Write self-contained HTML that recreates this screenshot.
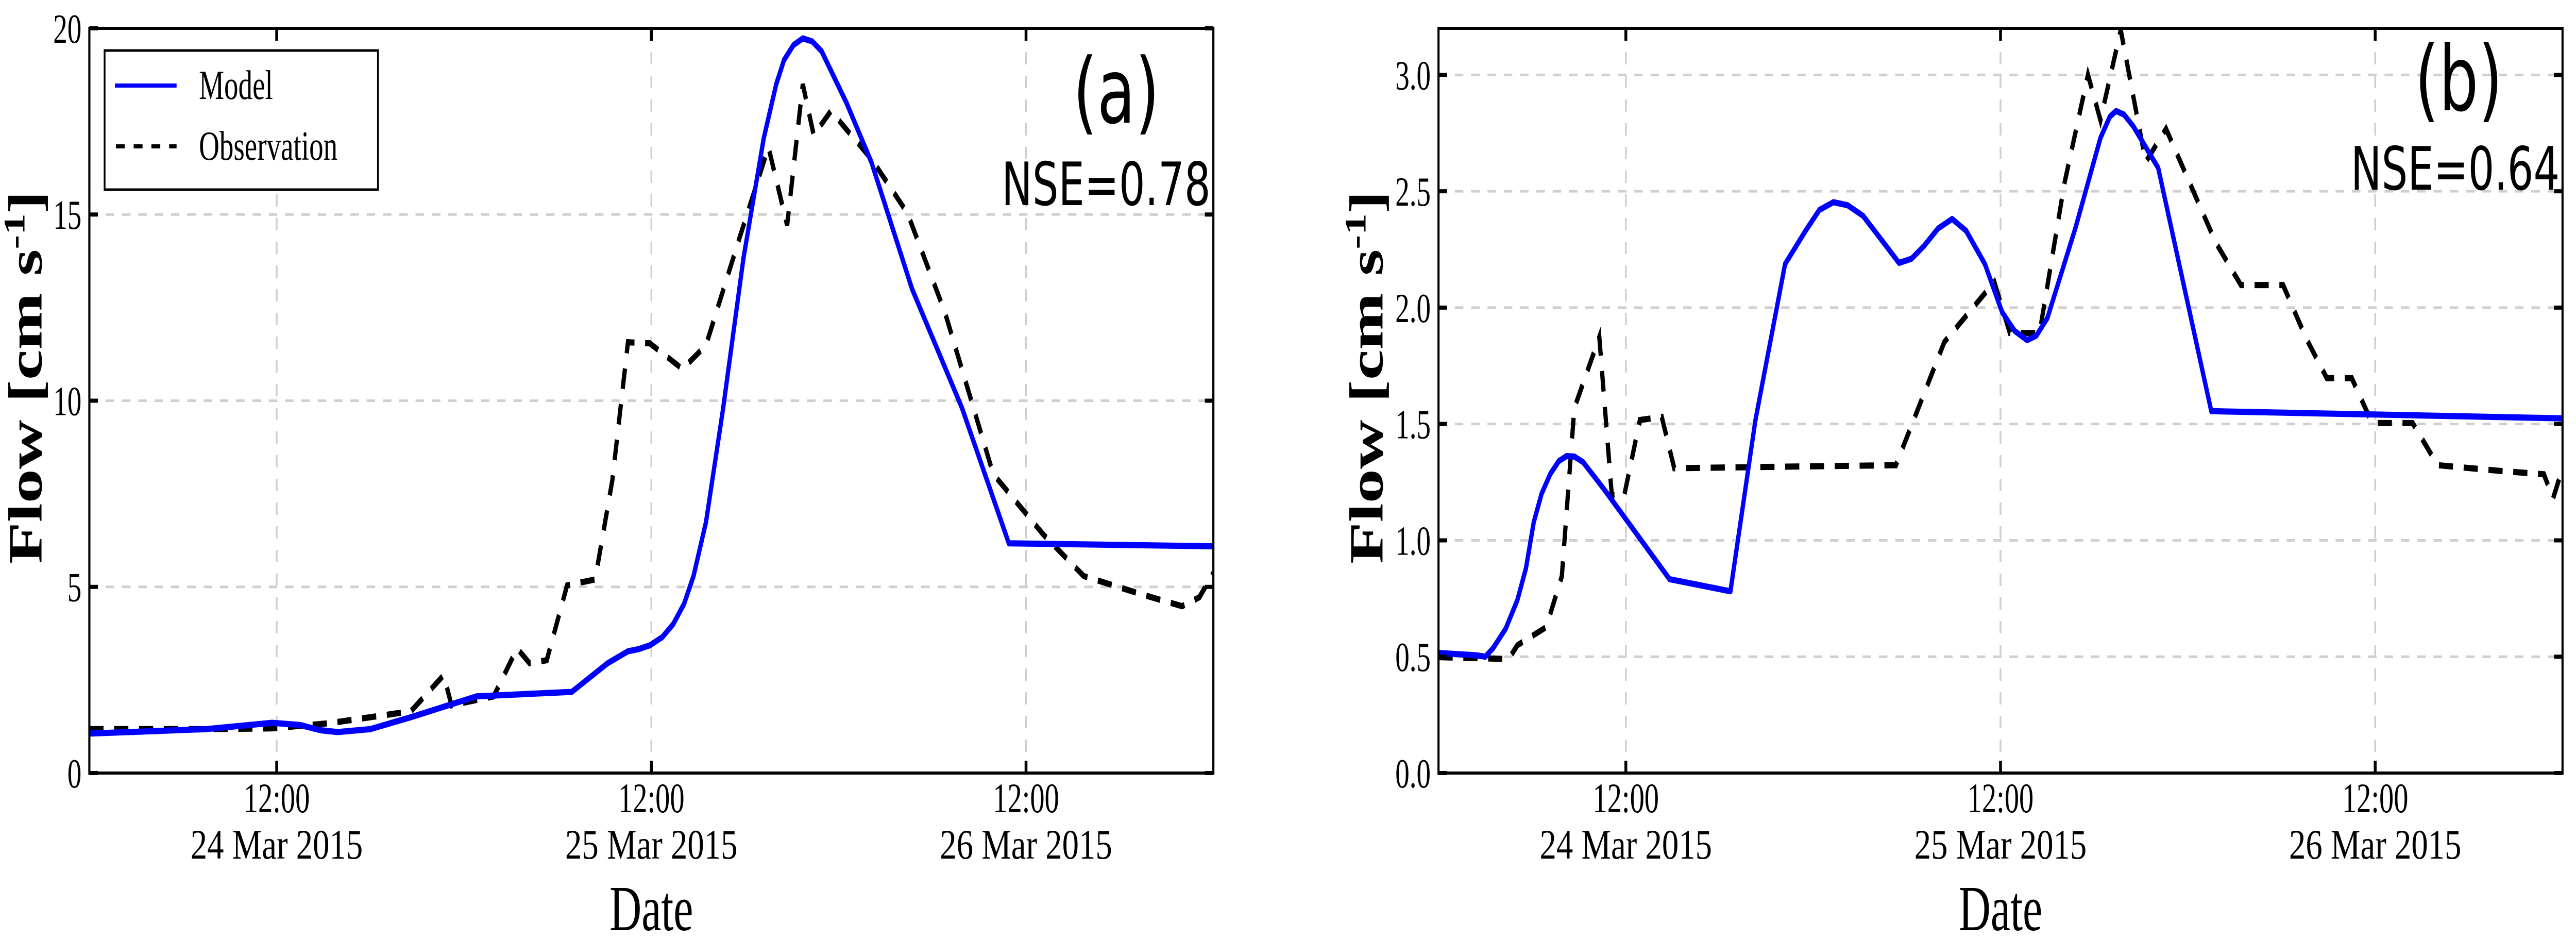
<!DOCTYPE html>
<html><head><meta charset="utf-8"><style>
html,body{margin:0;padding:0;background:#fff;width:100%;height:100%;overflow:hidden;}
svg{display:block;width:100vw;height:100vh;}
</style></head><body>
<svg id="fig" xmlns="http://www.w3.org/2000/svg" viewBox="0 0 7265 1822" preserveAspectRatio="none" overflow="hidden"></svg>
<script>
// ---- data (hours since 24 Mar 2015 00:00) ----
const xTickHours = [12, 36, 60];
const xTickTime = ["12:00", "12:00", "12:00"];
const xTickDate = ["24 Mar 2015", "25 Mar 2015", "26 Mar 2015"];
const aYTicks = [0, 5, 10, 15, 20];
const aYTickLabels = ["0", "5", "10", "15", "20"];
const bYTicks = [0, 0.5, 1.0, 1.5, 2.0, 2.5, 3.0];
const bYTickLabels = ["0.0", "0.5", "1.0", "1.5", "2.0", "2.5", "3.0"];

const aModelHours = [0,7.5,10,11.7,13.5,14.8,15.9,18,20.6,24.8,30.9,33.2,34.5,35.2,35.9,36.7,37.4,38.1,38.7,39.5,40.6,41.9,43.2,44.0,44.5,45.1,45.7,46.3,46.9,48.5,50.1,52.7,55.9,58.9,72];
const aModelFlow  = [1.06,1.18,1.28,1.35,1.29,1.15,1.10,1.18,1.5,2.06,2.18,2.95,3.27,3.33,3.43,3.65,4.0,4.55,5.29,6.74,9.8,13.83,17.05,18.5,19.15,19.55,19.73,19.65,19.39,18.0,16.4,13.0,9.8,6.17,6.09];
const aObsHours = [0,7.5,11.7,15.4,20.6,22.7,23.2,25.9,27.4,28.2,29.3,30.6,32.4,33.5,34.5,35.9,38.0,39.5,41.6,43.5,44.7,45.7,46.4,47.5,50.1,52.4,54.8,57.9,61.1,63.7,67.4,70.0,71.1,72];
const aObsFlow  = [1.18,1.18,1.2,1.34,1.66,2.63,1.82,2.06,3.35,2.95,3.03,5.04,5.2,7.86,11.57,11.54,10.85,11.49,14.31,16.81,14.71,18.5,17.13,17.78,16.49,15.04,12.38,8.03,6.41,5.29,4.8,4.48,4.72,5.37];

const bModelHours = [0,2.4,3.0,3.5,4.3,5.05,5.6,6.1,6.6,7.16,7.7,8.2,8.7,9.26,10.6,14.8,18.7,20.3,22.2,23.5,24.4,25.3,26.2,27.2,28.5,29.5,30.3,31.1,32.0,32.9,33.8,35.0,36.1,36.9,37.7,38.3,39.0,40.8,42.4,43.0,43.4,43.9,44.5,46.1,49.5,72];
const bModelFlow  = [0.516,0.506,0.50,0.537,0.62,0.743,0.88,1.078,1.20,1.285,1.34,1.362,1.36,1.336,1.22,0.833,0.781,1.517,2.187,2.329,2.42,2.453,2.44,2.394,2.28,2.192,2.21,2.265,2.34,2.381,2.33,2.187,1.981,1.90,1.86,1.88,1.955,2.342,2.729,2.82,2.845,2.83,2.78,2.6,1.555,1.524];
const bObsHours = [0,4.5,5.05,6.9,7.9,8.7,10.3,11.1,11.9,12.9,14.3,15.1,29.3,32.4,34.0,35.6,36.6,38.5,40.1,41.6,42.4,43.7,45.3,46.6,49.8,51.4,54.1,55.6,56.9,58.5,59.8,62.4,64.0,68.2,70.8,71.4,72];
const bObsFlow  = [0.498,0.49,0.549,0.627,0.846,1.568,1.873,1.194,1.194,1.517,1.53,1.31,1.323,1.852,1.981,2.11,1.891,1.891,2.536,3.0,2.806,3.193,2.626,2.768,2.278,2.097,2.097,1.865,1.697,1.697,1.504,1.504,1.323,1.297,1.284,1.181,1.31];

const NS = "http://www.w3.org/2000/svg";
const svg = document.getElementById("fig");
function mk(tag, attrs, parent) {
  const e = document.createElementNS(NS, tag);
  for (const k in attrs) e.setAttribute(k, attrs[k]);
  (parent || svg).appendChild(e);
  return e;
}
const SERIF = "'Liberation Serif', serif";
const SANS = "'DejaVu Sans', 'Liberation Sans', sans-serif";

function panel(cfg) {
  const g = mk("g", {});
  
  
  const L = cfg.left, R = cfg.right, T = 55, B = 1500;
  const xs = h => L + h / 72 * (R - L);
  const ys = v => B - v / cfg.ymax * (B - T);
  cfg.yTicks.forEach(v => {
    if (v === 0) return;
    const ln = mk("line", {x1: L, x2: R, y1: ys(v), y2: ys(v), stroke: "#cfcfcf", "stroke-width": 5, "stroke-dasharray": "24 22"}, g);
    
    
  });
  xTickHours.forEach(h => {
    const ln = mk("line", {x1: xs(h), x2: xs(h), y1: T, y2: B, stroke: "#cfcfcf", "stroke-width": 5, "stroke-dasharray": "24 22"}, g);
    
    
  });
  const clipId = "clip-" + cfg.name;
  const cp = mk("clipPath", {id: clipId}, g);
  mk("rect", {x: L, y: T, width: R - L, height: B - T}, cp);
  const opts = cfg.oH.map((h, i) => xs(h).toFixed(1) + "," + ys(cfg.oV[i]).toFixed(1)).join(" ");
  const ol = mk("polyline", {points: opts, fill: "none", stroke: "#000", "stroke-width": 12, "stroke-dasharray": "40 30", "clip-path": "url(#" + clipId + ")"}, g);
  
  
  const mpts = cfg.mH.map((h, i) => xs(h).toFixed(1) + "," + ys(cfg.mV[i]).toFixed(1)).join(" ");
  const ml = mk("polyline", {points: mpts, fill: "none", stroke: "#0000ff", "stroke-width": 12, "stroke-linejoin": "round", "clip-path": "url(#" + clipId + ")"}, g);
  
  
  const fr = mk("rect", {x: L, y: T, width: R - L, height: B - T, fill: "none", stroke: "#000", "stroke-width": 6}, g);
  
  
  cfg.yTicks.forEach((v, i) => {
    const y = ys(v);
    mk("line", {x1: L, x2: L + 24, y1: y, y2: y, stroke: "#000", "stroke-width": 8}, g);
    mk("line", {x1: R - 24, x2: R, y1: y, y2: y, stroke: "#000", "stroke-width": 8}, g);
    const t = mk("text", {x: cfg.ylabRight, y: y + 28, "text-anchor": "end", "font-family": SERIF, "font-size": 80}, g);
    t.textContent = cfg.yLabels[i];
    
    
  });
  xTickHours.forEach((h, i) => {
    const x = xs(h);
    mk("line", {x1: x, x2: x, y1: B - 24, y2: B, stroke: "#000", "stroke-width": 8}, g);
    mk("line", {x1: x, x2: x, y1: T, y2: T + 24, stroke: "#000", "stroke-width": 8}, g);
    const t1 = mk("text", {x: x, y: 1576, "text-anchor": "middle", "font-family": SERIF, "font-size": 82}, g);
    t1.textContent = xTickTime[i];
    
    
    const t2 = mk("text", {x: x, y: 1666, "text-anchor": "middle", "font-family": SERIF, "font-size": 82, textLength: 486, lengthAdjust: "spacingAndGlyphs"}, g);
    t2.textContent = xTickDate[i];
    
    
  });
  const xt = mk("text", {x: (L + R) / 2, y: 1805, "text-anchor": "middle", "font-family": SERIF, "font-size": 125}, g);
  xt.textContent = "Date";
  
  
  const yt = mk("text", {x: 0, y: 0, "text-anchor": "middle", "font-family": SERIF, "font-weight": "bold", "font-size": 135, textLength: 724, lengthAdjust: "spacingAndGlyphs", transform: "translate(" + (cfg.ytitleX + 37) + ",732) rotate(-90)"}, g);
  yt.innerHTML = 'Flow [cm s<tspan dy="-48" font-size="85">-1</tspan><tspan dy="48">]</tspan>';
  
  
  const pl = mk("text", {x: cfg.panelLabelX, y: cfg.panelLabelY, "text-anchor": "end", "font-family": SANS, "font-size": 175}, g);
  pl.textContent = cfg.panelLabel;
  
  
  const ns = mk("text", {x: R - 8, y: cfg.nseY, "text-anchor": "end", "font-family": SANS, "font-size": 116}, g);
  ns.textContent = cfg.nse;
  
  
  return g;
}

panel({name: "panel-a", left: 252, right: 3422, ymax: 20, yTicks: aYTicks, yLabels: aYTickLabels, ylabRight: 230,
  mH: aModelHours, mV: aModelFlow, oH: aObsHours, oV: aObsFlow, ytitleX: 80,
  panelLabel: "(a)", panelLabelX: 3270, panelLabelY: 238, nse: "NSE=0.78", nseY: 398});
panel({name: "panel-b", left: 4057, right: 7227, ymax: 3.2, yTicks: bYTicks, yLabels: bYTickLabels, ylabRight: 4035,
  mH: bModelHours, mV: bModelFlow, oH: bObsHours, oV: bObsFlow, ytitleX: 3862,
  panelLabel: "(b)", panelLabelX: 7058, panelLabelY: 214, nse: "NSE=0.64", nseY: 368});

const lg = mk("g", {});


mk("rect", {x: 295, y: 98, width: 771, height: 270, fill: "#fff", stroke: "#000", "stroke-width": 5}, lg);
const le1 = mk("line", {x1: 324, x2: 498, y1: 166, y2: 166, stroke: "#0000ff", "stroke-width": 8}, lg);


const le2 = mk("line", {x1: 327, x2: 498, y1: 284, y2: 284, stroke: "#000", "stroke-width": 8, "stroke-dasharray": "25 25"}, lg);


const lt1 = mk("text", {x: 561, y: 192, "font-family": SERIF, "font-size": 80}, lg);
lt1.textContent = "Model";


const lt2 = mk("text", {x: 561, y: 310, "font-family": SERIF, "font-size": 80}, lg);
lt2.textContent = "Observation";


</script>
</body></html>
